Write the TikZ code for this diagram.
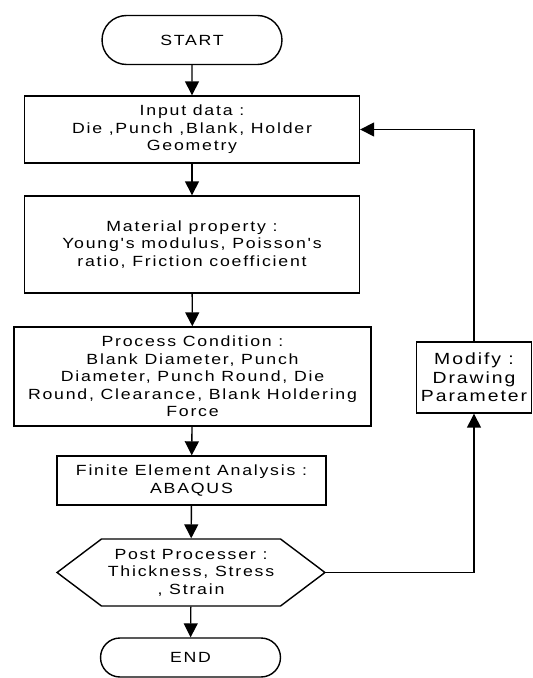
\documentclass[tikz,border=0pt]{standalone}
\usepackage{fontspec}
\newfontfamily\chartfont[FakeStretch=1.2,LetterSpace=12]{Liberation Sans}
\usetikzlibrary{shapes.geometric, shapes.misc, shapes.symbols, arrows.meta, positioning}

\begin{document}
\begin{tikzpicture}[
    x=0.02cm, y=-0.02cm,
    every node/.style={font=\chartfont\fontsize{8.4}{10}\selectfont, align=center, line width=0.8pt},
    terminal/.style={rounded rectangle, draw, minimum width=3.6cm, minimum height=0.98cm, inner sep=0pt},
    process/.style={rectangle, draw, inner sep=0pt},
    output/.style={signal, signal to=west and east, signal pointer angle=74, draw, minimum width=5.36cm, minimum height=1.34cm, inner sep=0pt},
    arrow/.style={-{Triangle[length=2.8mm, width=2.8mm]}, line width=0.8pt},
]
\useasboundingbox (0,0) rectangle (532,678);

\node[terminal] (start) at (192,40) {START};
\node[process, minimum width=6.7cm, minimum height=1.34cm] (input) at (192,129.5) {Input data :\\Die ,Punch ,Blank, Holder\\Geometry};
\node[process, minimum width=6.7cm, minimum height=1.94cm] (material) at (192,244.5) {Material property :\\Young's modulus, Poisson's\\ratio, Friction coefficient};
\node[process, minimum width=7.14cm, minimum height=1.98cm] (condition) at (192.5,376.5) {Process Condition :\\Blank Diameter, Punch\\Diameter, Punch Round, Die\\Round, Clearance, Blank Holdering\\Force};
\node[process, minimum width=5.38cm, minimum height=0.98cm] (fea) at (191.5,480.5) {Finite Element Analysis :\\ABAQUS};
\node[output] (post) at (191,572.5) {Post Processer :\\Thickness, Stress\\, Strain};
\node[terminal, minimum height=0.78cm] (end) at (190.5,657.5) {END};
\node[process, minimum width=2.3cm, minimum height=1.42cm, font=\chartfont\fontsize{9.2}{10.6}\selectfont] (modify) at (474,377.5) {Modify :\\Drawing\\Parameter};

\draw[arrow] (start) -- (input);
\draw[arrow] (input) -- (material);
\draw[arrow] (material) -- (condition);
\draw[arrow] (condition) -- (fea);
\draw[arrow] (fea) -- (post);
\draw[arrow] (post) -- (end);
\draw[arrow] (post.east) -| (modify.south);
\draw[arrow] (modify.north) |- (input.east);
\end{tikzpicture}
\end{document}
